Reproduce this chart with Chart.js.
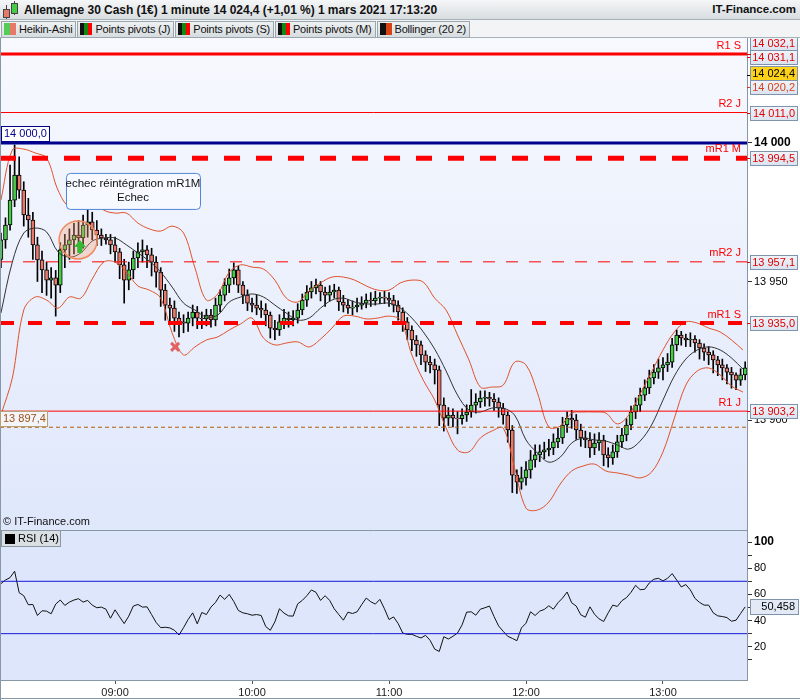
<!DOCTYPE html>
<html>
<head>
<meta charset="utf-8">
<script src="https://cdn.jsdelivr.net/npm/chart.js@4.4.1/dist/chart.umd.min.js"></script>
<style>
  body { margin: 0; width: 800px; height: 700px; overflow: hidden; background: #fff; position: relative;
         font-family: "Liberation Sans", Arial, sans-serif; }
  #title { position: absolute; left: 0; top: 0; width: 800px; height: 20px; box-sizing: border-box;
           background: linear-gradient(#f5f6f7, #d8dde0); border-bottom: 1px solid #a7b1b8; }
  #title .ic { position: absolute; width: 5px; border: 1px solid #444; }
  #title .wk { position: absolute; width: 1px; background: #444; }
  #ttext { position: absolute; left: 24px; top: 3px; font-weight: bold; font-size: 12px; letter-spacing: -0.05px; color: #111; white-space: nowrap; }
  #brand { position: absolute; right: 4px; top: 3px; font-weight: bold; font-size: 11.5px; color: #111; }
  #legend { position: absolute; left: 0; top: 20px; width: 800px; height: 18px; background: #f2f4f6;
            box-sizing: border-box; border-bottom: 1px solid #a7b1b8; white-space: nowrap; }
  .btn { display: inline-block; height: 15px; line-height: 15px; font-size: 11px; letter-spacing: -0.2px; color: #111; margin: 1px 0 0 1px;
         padding: 0 3px 0 2px; border: 1px solid #9aa5ad; background: linear-gradient(#eef1f2, #d6dcdf); vertical-align: top; }
  .sw { display: inline-block; width: 12px; height: 12px; margin: 1px 3px 0 0; vertical-align: top; }
  #c { position: absolute; left: 0; top: 38px; }
</style>
</head>
<body>
<div id="title">
  <div class="wk" style="left:6px;top:5px;height:14px"></div>
  <div class="ic" style="left:3px;top:9px;height:7px;background:#e8786a"></div>
  <div class="wk" style="left:14px;top:1px;height:14px"></div>
  <div class="ic" style="left:11px;top:3px;height:9px;background:#44cc44"></div>
  <span id="ttext">Allemagne 30 Cash (1€) 1 minute 14 024,4 (+1,01 %) 1 mars 2021 17:13:20</span>
  <span id="brand">IT-Finance.com</span>
</div>
<div id="legend">
  <span class="btn"><i class="sw" style="background:linear-gradient(90deg,#55cc55 50%,#e8786a 50%)"></i>Heikin-Ashi</span><span class="btn"><i class="sw" style="background:linear-gradient(90deg,#111 33%,#118811 33%,#118811 66%,#ff0000 66%)"></i>Points pivots (J)</span><span class="btn"><i class="sw" style="background:linear-gradient(90deg,#111 33%,#118811 33%,#118811 66%,#ff0000 66%)"></i>Points pivots (S)</span><span class="btn"><i class="sw" style="background:linear-gradient(90deg,#111 33%,#118811 33%,#118811 66%,#ff0000 66%)"></i>Points pivots (M)</span><span class="btn"><i class="sw" style="background:linear-gradient(90deg,#111 50%,#d84315 50%)"></i>Bollinger (20 2)</span>
</div>
<canvas id="c" width="800" height="662"></canvas>
<script>
// time is counted in minutes after 08:00
const xMin = 9.6;
const xMax = 336.8;
const hourTicks = [60, 120, 180, 240, 300];

// Heikin-Ashi candles, one every 2 minutes from 08:10 : [open, high, low, close]
const candleStart = 10;
const candleStep = 2;
const candles = [
  [13958.0,13967.5,13955.0,13965.0],[13965.0,13973.0,13962.0,13970.4],[13970.4,13992.0,13968.5,13979.4],[13979.4,13999.3,13977.0,13988.4],
  [13988.4,13995.0,13980.0,13983.0],[13983.0,13986.0,13970.0,13974.0],[13974.0,13980.0,13966.0,13972.2],[13972.2,13975.0,13958.0,13963.2],
  [13963.2,13966.0,13950.0,13957.8],[13957.8,13961.0,13946.0,13954.2],[13954.2,13957.0,13945.0,13950.5],[13950.5,13955.0,13944.0,13951.3],
  [13951.3,13954.0,13937.5,13948.7],[13948.7,13964.0,13946.0,13961.4],[13961.4,13967.0,13955.0,13963.2],[13963.2,13969.0,13958.0,13965.0],
  [13965.0,13971.0,13960.0,13966.8],[13966.8,13972.0,13960.5,13965.7],[13965.7,13974.0,13962.0,13970.4],[13970.4,13976.2,13966.0,13971.5],
  [13971.5,13975.0,13965.0,13968.6],[13968.6,13972.0,13963.0,13966.8],[13966.8,13969.0,13963.0,13965.7],[13965.7,13967.0,13963.5,13965.0],
  [13965.0,13967.0,13960.0,13963.2],[13963.2,13966.0,13957.0,13960.7],[13960.7,13962.0,13951.0,13956.0],[13956.0,13958.0,13942.2,13950.5],
  [13950.5,13957.0,13947.0,13954.2],[13954.2,13961.0,13951.0,13958.5],[13958.5,13964.0,13955.0,13960.7],[13960.7,13965.0,13957.0,13961.4],
  [13961.4,13963.0,13955.0,13959.6],[13959.6,13962.0,13952.0,13957.0],[13957.0,13959.0,13948.0,13953.4],[13953.4,13955.0,13941.0,13946.9],
  [13946.9,13949.0,13936.0,13941.5],[13941.5,13944.0,13935.0,13940.4],[13940.4,13943.0,13932.0,13936.8],[13936.8,13939.0,13930.0,13935.4],
  [13935.4,13938.0,13931.5,13935.0],[13935.0,13939.0,13932.0,13936.8],[13936.8,13941.5,13934.0,13939.0],[13939.0,13941.0,13933.0,13936.8],
  [13936.8,13939.0,13933.0,13936.5],[13936.5,13940.0,13934.0,13937.9],[13937.9,13940.0,13933.5,13936.1],[13936.1,13944.0,13934.0,13941.5],
  [13941.5,13947.0,13939.0,13945.1],[13945.1,13951.0,13943.0,13948.7],[13948.7,13954.5,13946.0,13951.3],[13951.3,13956.7,13949.0,13954.2],
  [13954.2,13955.5,13946.0,13948.7],[13948.7,13950.0,13942.0,13945.1],[13945.1,13947.0,13939.5,13942.2],[13942.2,13944.0,13939.0,13941.5],
  [13941.5,13945.0,13938.0,13940.4],[13940.4,13943.0,13937.0,13939.7],[13939.7,13942.0,13934.0,13937.9],[13937.9,13939.0,13929.6,13933.2],
  [13933.2,13936.0,13929.0,13932.5],[13932.5,13938.0,13930.5,13935.4],[13935.4,13940.0,13933.0,13936.8],[13936.8,13939.0,13933.5,13936.1],
  [13936.1,13939.5,13934.0,13936.8],[13936.8,13942.0,13935.0,13939.7],[13939.7,13945.5,13938.0,13943.3],[13943.3,13948.5,13941.0,13946.2],
  [13946.2,13950.0,13944.0,13947.7],[13947.7,13950.9,13945.5,13948.7],[13948.7,13950.0,13943.0,13946.2],[13946.2,13948.0,13941.0,13945.1],
  [13945.1,13948.5,13943.0,13946.2],[13946.2,13949.0,13944.0,13946.9],[13946.9,13948.0,13939.5,13942.6],[13942.6,13945.0,13939.0,13941.5],
  [13941.5,13943.5,13938.5,13940.4],[13940.4,13943.0,13938.0,13940.8],[13940.8,13944.0,13939.0,13941.5],[13941.5,13944.5,13940.0,13942.2],
  [13942.2,13945.5,13940.5,13943.3],[13943.3,13946.0,13941.0,13943.0],[13943.0,13946.5,13941.5,13944.0],[13944.0,13946.0,13942.0,13944.4],
  [13944.4,13946.5,13942.0,13944.0],[13944.0,13946.0,13941.0,13943.3],[13943.3,13945.0,13939.0,13941.5],[13941.5,13943.0,13936.0,13939.0],
  [13939.0,13940.5,13932.0,13935.4],[13935.4,13937.0,13929.0,13932.5],[13932.5,13934.0,13925.0,13928.9],[13928.9,13930.5,13923.0,13927.1],
  [13927.1,13928.5,13920.0,13923.5],[13923.5,13925.0,13917.5,13920.9],[13920.9,13923.0,13917.0,13919.9],[13919.9,13922.0,13913.0,13918.1],
  [13918.1,13919.5,13898.0,13905.4],[13905.4,13908.0,13896.0,13900.7],[13900.7,13904.5,13898.0,13901.8],[13901.8,13904.0,13897.5,13900.7],
  [13900.7,13903.0,13895.0,13900.5],[13900.5,13904.0,13898.5,13901.8],[13901.8,13905.5,13899.5,13902.9],[13902.9,13911.0,13901.0,13905.4],
  [13905.4,13909.5,13902.5,13906.5],[13906.5,13910.5,13904.5,13907.9],[13907.9,13910.5,13905.0,13908.2],[13908.2,13910.0,13905.0,13907.6],
  [13907.6,13909.5,13903.5,13906.5],[13906.5,13908.0,13901.0,13904.3],[13904.3,13906.0,13898.5,13901.8],[13901.8,13903.0,13892.0,13896.4],
  [13896.4,13898.0,13873.8,13880.1],[13880.1,13882.0,13873.5,13877.6],[13877.6,13883.0,13875.0,13879.1],[13879.1,13885.0,13876.5,13882.0],
  [13882.0,13889.0,13879.0,13885.6],[13885.6,13891.0,13883.0,13887.4],[13887.4,13891.0,13885.0,13888.5],[13888.5,13892.0,13886.0,13889.2],
  [13889.2,13893.0,13887.0,13889.9],[13889.9,13895.0,13887.5,13892.1],[13892.1,13897.0,13890.0,13893.5],[13893.5,13901.0,13891.5,13898.2],
  [13898.2,13903.0,13895.5,13900.7],[13900.7,13903.5,13897.0,13900.0],[13900.0,13902.0,13893.0,13896.4],[13896.4,13898.5,13890.5,13893.5],
  [13893.5,13896.0,13890.0,13892.8],[13892.8,13895.5,13886.5,13889.9],[13889.9,13895.0,13887.5,13891.7],[13891.7,13895.5,13889.0,13892.8],
  [13892.8,13894.5,13883.5,13887.4],[13887.4,13890.0,13883.0,13886.3],[13886.3,13891.0,13884.0,13888.5],[13888.5,13894.5,13886.5,13892.1],
  [13892.1,13897.0,13890.0,13894.6],[13894.6,13900.5,13892.5,13898.2],[13898.2,13905.0,13896.5,13902.9],[13902.9,13908.0,13900.5,13905.4],
  [13905.4,13911.5,13903.0,13909.0],[13909.0,13914.5,13907.0,13911.6],[13911.6,13918.0,13909.5,13915.2],[13915.2,13920.0,13913.0,13917.3],
  [13917.3,13922.0,13915.0,13918.8],[13918.8,13922.5,13914.5,13919.9],[13919.9,13924.0,13917.5,13920.9],[13920.9,13929.5,13919.0,13927.1],
  [13927.1,13932.5,13925.0,13930.7],[13930.7,13932.0,13927.0,13929.6],[13929.6,13931.0,13926.5,13928.9],[13928.9,13931.5,13926.5,13929.2],
  [13929.2,13930.5,13924.5,13927.8],[13927.8,13929.0,13922.0,13926.0],[13926.0,13927.5,13921.5,13924.5],[13924.5,13926.5,13920.0,13923.5],
  [13923.5,13925.0,13917.0,13921.7],[13921.7,13923.0,13916.0,13919.9],[13919.9,13922.0,13914.5,13918.8],[13918.8,13920.0,13913.0,13917.3],
  [13917.3,13919.0,13911.5,13916.3],[13916.3,13917.0,13911.0,13914.4],[13914.4,13918.5,13912.5,13916.3],[13916.3,13921.0,13914.5,13918.8]
];

// Bollinger (20 2), read every 5 minutes from 08:10
const bbStart = 10;
const bbStep = 5;
const bbUpper = [
  13979.4,13997.5,13997.8,13996.4,13994.6,13983.0,13976.9,13978.7,13980.1,13975.8,
  13974.7,13974.7,13971.1,13969.0,13968.2,13970.0,13967.5,13954.9,13943.3,13945.5,
  13953.4,13956.0,13955.2,13954.5,13950.5,13944.0,13942.6,13946.6,13949.5,13951.6,
  13951.6,13950.5,13948.4,13946.9,13946.9,13949.5,13950.5,13949.8,13944.0,13939.7,
  13930.7,13921.7,13911.9,13911.9,13912.6,13920.9,13919.9,13909.8,13897.5,13897.8,
  13902.5,13902.9,13902.9,13902.5,13898.6,13901.8,13909.4,13917.3,13925.3,13931.8,
  13935.4,13935.0,13933.2,13931.8,13928.9,13925.3
];
const bbMiddle = [
  13938.6,13957.0,13967.5,13969.3,13967.9,13960.7,13958.8,13960.3,13964.6,13965.7,
  13965.7,13963.2,13960.3,13957.4,13953.4,13948.0,13942.2,13939.7,13937.2,13937.9,
  13942.6,13944.4,13945.5,13944.4,13941.5,13938.6,13936.1,13936.8,13940.4,13943.3,
  13944.0,13942.6,13941.9,13941.9,13942.2,13940.4,13936.8,13931.8,13925.6,13917.7,
  13909.0,13903.6,13902.9,13904.3,13904.3,13901.8,13892.8,13888.1,13884.8,13886.6,
  13891.7,13893.5,13892.8,13892.4,13891.0,13889.5,13892.4,13898.2,13907.2,13915.9,
  13922.0,13925.3,13926.4,13925.3,13922.4,13918.4
];
const bbLower = [
  13901.8,13915.2,13939.7,13944.4,13943.3,13940.4,13944.4,13944.0,13950.9,13957.0,
  13957.0,13953.4,13948.4,13946.9,13944.0,13931.4,13923.5,13926.4,13928.9,13930.0,
  13932.5,13934.7,13936.8,13929.6,13927.1,13927.8,13928.2,13926.4,13929.2,13933.2,
  13937.5,13937.5,13936.5,13936.8,13937.5,13936.1,13923.5,13914.4,13907.2,13897.1,
  13889.2,13888.5,13893.5,13896.0,13897.1,13882.7,13868.2,13867.5,13870.4,13876.9,
  13881.6,13883.4,13884.1,13881.6,13880.9,13880.1,13879.1,13881.2,13888.5,13900.7,
  13912.6,13917.7,13918.8,13916.3,13912.3,13910.1
];

// RSI (14), read every 2 minutes from 08:10
const rsiStart = 10;
const rsiStep = 2;
const rsiValues = [
  68.2,71.0,72.8,77.7,61.3,59.0,52.1,52.3,43.9,47.5,47.2,45.2,52.6,55.7,51.6,54.1,55.7,56.7,54.1,55.4,
  51.8,49.8,50.3,48.7,41.8,48.2,42.8,37.7,43.4,51.1,52.3,50.3,50.5,44.6,38.5,34.6,34.9,34.4,32.6,29.0,
  34.6,40.8,45.9,37.5,46.2,44.6,50.3,53.9,59.5,56.2,60.0,54.6,47.7,45.9,45.2,44.1,44.6,43.9,35.4,32.6,
  39.0,49.0,45.7,43.6,43.4,52.8,55.4,59.0,63.4,61.6,55.4,59.0,55.4,49.0,44.6,40.3,46.4,45.4,46.7,52.1,
  57.2,54.4,52.6,56.2,49.0,40.8,42.8,37.7,30.5,29.5,29.5,28.0,26.7,28.7,24.9,18.2,16.4,27.7,25.9,28.0,
  30.5,36.7,46.4,46.7,44.1,48.7,49.8,51.1,43.1,35.9,31.8,28.0,26.4,24.6,34.4,38.0,46.7,43.9,47.2,48.5,
  51.3,48.7,53.6,57.2,61.8,53.6,51.1,44.4,42.6,50.5,44.9,41.3,39.3,45.9,51.8,50.8,55.2,57.5,61.6,66.9,
  63.6,63.9,68.7,71.6,72.3,70.3,72.3,75.9,71.0,65.7,67.5,63.4,57.0,53.9,51.8,51.8,45.9,43.6,43.1,42.3,
  39.5,40.3,45.4,50.458
];
const rsiBands = [70, 30];
const rsiTicks = [10, 20, 30, 40, 50, 60, 70, 80, 90, 100];
const rsiLabelled = [20, 40, 60, 80, 100];

// price scale and pivot levels
const priceMin = 13860.3;
const priceMax = 14037.9;
const priceTicks = [13900, 13950, 14000];
const levelNames = ["R1 S", "R2 J", "mR1 M", "mR2 J", "mR1 S", "R1 J"];
const levelValues = [14032.1, 14011.0, 13994.5, 13957.1, 13935.0, 13903.2];
const levelWidths = [3, 1, 5, 1, 4, 1];
const levelDashes = [[], [], [16, 16], [12, 11], [14, 14], []];
const roundLevel = 14000.0;
const markLevel = 13897.4;
const extraBoxes = [14031.1, 14024.4, 14020.2]; // pivot (hidden), last price, upper band
const lastPrice = 14024.4;

const FONT = '"Liberation Sans", Arial, sans-serif';
Chart.defaults.font.family = FONT;
Chart.defaults.font.size = 11;
Chart.defaults.color = "#000";

function fr(v, d) {
  const parts = v.toFixed(d).split(".");
  const ent = parts[0].replace(/\B(?=(\d{3})+(?!\d))/g, " ");
  return d ? ent + "," + parts[1] : ent;
}
function hhmm(m) {
  const h = 8 + Math.floor(m / 60), mm = m % 60;
  return String(h).padStart(2, "0") + ":" + String(mm).padStart(2, "0");
}
// no extra margins round the axes, the panes fill the canvas
function noPad(s) {
  s.paddingTop = 0; s.paddingBottom = 0; s.paddingLeft = 0; s.paddingRight = 0;
}

const tCandle = candles.map((c, i) => candleStart + i * candleStep);
const wickData = candles.map((c, i) => ({ x: tCandle[i], y: [c[2], c[1]] }));
const bodyData = candles.map((c, i) => ({ x: tCandle[i], y: [c[0], c[3]] }));
const bodyColors = candles.map(c => (c[3] >= c[0] ? "#44cc44" : "#e8786a"));
const band = arr => arr.map((v, i) => ({ x: bbStart + i * bbStep, y: v }));
const flat = v => [{ x: xMin, y: v }, { x: xMax, y: v }];

const datasets = [];
levelNames.forEach((n, k) => {
  datasets.push({ type: "line", label: n, data: flat(levelValues[k]), yAxisID: "y", order: 1,
    borderColor: "#ff0000", borderWidth: levelWidths[k], borderDash: levelDashes[k], pointRadius: 0 });
});
datasets.push({ type: "line", label: "14000", data: flat(roundLevel), yAxisID: "y", order: 1,
  borderColor: "#00008c", borderWidth: 3, pointRadius: 0 });
datasets.push({ type: "line", label: "mark", data: flat(markLevel), yAxisID: "y", order: 1,
  borderColor: "#b05a10", borderWidth: 1, borderDash: [4, 3], pointRadius: 0 });
datasets.push({ type: "line", label: "BB sup", data: band(bbUpper), yAxisID: "y", order: 2,
  borderColor: "#e0522a", borderWidth: 1, pointRadius: 0, tension: 0.35 });
datasets.push({ type: "line", label: "BB inf", data: band(bbLower), yAxisID: "y", order: 2,
  borderColor: "#e0522a", borderWidth: 1, pointRadius: 0, tension: 0.35 });
datasets.push({ type: "line", label: "BB moy", data: band(bbMiddle), yAxisID: "y", order: 2,
  borderColor: "#333333", borderWidth: 1, pointRadius: 0, tension: 0.35 });
datasets.push({ type: "bar", label: "corps", data: bodyData, yAxisID: "y", order: 3, grouped: false,
  barThickness: 4, backgroundColor: bodyColors, borderColor: "#000", borderWidth: 1, borderSkipped: false });
datasets.push({ type: "bar", label: "meches", data: wickData, yAxisID: "y", order: 4, grouped: false,
  barThickness: 1, backgroundColor: "#000", borderWidth: 0 });
rsiBands.forEach(v => {
  datasets.push({ type: "line", label: "rsi " + v, data: flat(v), yAxisID: "yR", order: 1,
    borderColor: "#1818d8", borderWidth: 1, pointRadius: 0 });
});
datasets.push({ type: "line", label: "RSI", data: rsiValues.map((v, i) => ({ x: rsiStart + i * rsiStep, y: v })),
  yAxisID: "yR", order: 2, borderColor: "#111", borderWidth: 1, pointRadius: 0 });

function box(ctx, x, y, w, h, fill, stroke) {
  ctx.fillStyle = fill;
  ctx.fillRect(x, y, w, h);
  ctx.strokeStyle = stroke;
  ctx.lineWidth = 1;
  ctx.strokeRect(x + 0.5, y + 0.5, w - 1, h - 1);
}

const decor = {
  id: "decor",
  beforeDraw(chart) {
    const { ctx, chartArea: a, scales: { y, yR } } = chart;
    ctx.save();
    const g = ctx.createLinearGradient(0, y.top, 0, y.bottom);
    g.addColorStop(0, "#f7f9fe");
    g.addColorStop(1, "#dfe7fb");
    ctx.fillStyle = g;
    ctx.fillRect(a.left, y.top, a.right - a.left, y.bottom - y.top);
    ctx.fillStyle = "#dde6fb";
    ctx.fillRect(a.left, yR.top, a.right - a.left, yR.bottom - yR.top);
    ctx.restore();
  },
  afterDatasetsDraw(chart) {
    const { ctx, chartArea: a, scales: { x, y, yR } } = chart;
    ctx.save();
    // panel separator and frame
    ctx.strokeStyle = "#8797a6";
    ctx.lineWidth = 1;
    ctx.beginPath();
    ctx.moveTo(0, Math.round(yR.top) + 0.5); ctx.lineTo(a.right, Math.round(yR.top) + 0.5);
    ctx.moveTo(0.5, 0); ctx.lineTo(0.5, chart.height);
    ctx.moveTo(0, chart.height - 1.5); ctx.lineTo(chart.width, chart.height - 1.5);
    ctx.stroke();

    // level names
    ctx.font = "11px " + FONT;
    ctx.textAlign = "right";
    ctx.textBaseline = "bottom";
    ctx.fillStyle = "#ff0000";
    levelNames.forEach((n, k) => {
      const py = y.getPixelForValue(levelValues[k]);
      ctx.fillText(n, a.right - 6, py - Math.max(levelWidths[k] / 2, 2) - 1);
    });

    // left boxes
    ctx.textAlign = "left";
    ctx.textBaseline = "middle";
    let py = y.getPixelForValue(roundLevel);
    box(ctx, 1, Math.round(py) - 17, 49, 16, "#ffffff", "#00008c");
    ctx.fillStyle = "#00008c";
    ctx.fillText(fr(roundLevel, 1), 4, Math.round(py) - 9);
    py = y.getPixelForValue(markLevel);
    box(ctx, 0, Math.round(py) - 16, 48, 16, "#f3f5fc", "#b8a070");
    ctx.fillStyle = "#a05010";
    ctx.fillText(fr(markLevel, 1), 3, Math.round(py) - 8);

    // annotation: circle, arrow, cross, comment box
    const cx = x.getPixelForValue(43.8), cy = y.getPixelForValue(13965.0);
    ctx.beginPath();
    ctx.arc(cx, cy, 19, 0, Math.PI * 2);
    ctx.fillStyle = "rgba(245,160,120,0.35)";
    ctx.fill();
    ctx.strokeStyle = "#f08a5d";
    ctx.lineWidth = 1.5;
    ctx.stroke();
    const ax = x.getPixelForValue(44.6), ay = y.getPixelForValue(13962.5);
    ctx.beginPath();
    ctx.moveTo(ax, ay - 7); ctx.lineTo(ax + 6, ay); ctx.lineTo(ax + 2.5, ay); ctx.lineTo(ax + 2.5, ay + 6);
    ctx.lineTo(ax - 2.5, ay + 6); ctx.lineTo(ax - 2.5, ay); ctx.lineTo(ax - 6, ay); ctx.closePath();
    ctx.fillStyle = "#33bb33";
    ctx.fill();
    const xx = x.getPixelForValue(86.3), xy = y.getPixelForValue(13926.4);
    ctx.strokeStyle = "#e26262";
    ctx.lineWidth = 3;
    ctx.beginPath();
    ctx.moveTo(xx - 4, xy - 4); ctx.lineTo(xx + 4, xy + 4);
    ctx.moveTo(xx + 4, xy - 4); ctx.lineTo(xx - 4, xy + 4);
    ctx.stroke();
    const bl = x.getPixelForValue(38.5), br = x.getPixelForValue(97.2);
    const bt = y.getPixelForValue(13989.2), bb = y.getPixelForValue(13976.2);
    ctx.beginPath();
    ctx.roundRect(bl + 0.5, bt + 0.5, br - bl, bb - bt, 4);
    ctx.fillStyle = "#f6f9ff";
    ctx.fill();
    ctx.strokeStyle = "#4f86d8";
    ctx.lineWidth = 1;
    ctx.stroke();
    ctx.fillStyle = "#111";
    ctx.textAlign = "center";
    ctx.font = "11.5px " + FONT;
    ctx.fillText("echec réintégration mR1M", (bl + br) / 2, bt + 11);
    ctx.fillText("Echec", (bl + br) / 2, bt + 25);

    // copyright and RSI legend
    ctx.textAlign = "left";
    ctx.font = "11px " + FONT;
    ctx.fillText("© IT-Finance.com", 3, yR.top - 8);
    box(ctx, 1, Math.round(yR.top), 60, 17, "#d9dfe2", "#8a98a2");
    ctx.fillStyle = "#000";
    ctx.fillRect(5, Math.round(yR.top) + 4, 10, 10);
    ctx.fillText("RSI (14)", 18, Math.round(yR.top) + 9);
    ctx.restore();
  },
  afterDraw(chart) {
    const { ctx, chartArea: a, scales: { y, yR } } = chart;
    ctx.save();
    ctx.font = "11px " + FONT;
    ctx.textAlign = "right";
    ctx.textBaseline = "middle";
    // price boxes on the right axis, pushed apart when they touch
    const items = levelValues.map(v => ({ v, color: "#e00000", fill: null }));
    extraBoxes.forEach(v => items.push({ v, color: v === lastPrice ? "#000" : (v === 14020.2 ? "#d8401a" : "#e00000"),
      fill: v === lastPrice ? "#ffd21a" : null }));
    items.forEach(it => { it.py = y.getPixelForValue(it.v); it.cy = it.py; });
    items.sort((p, q) => q.py - p.py);
    for (let k = 1; k < items.length; k++) {
      if (items[k - 1].cy - items[k].cy < 14) items[k].cy = items[k - 1].cy - 14;
    }
    items.forEach(it => {
      ctx.strokeStyle = it.color;
      ctx.lineWidth = 1;
      ctx.beginPath();
      ctx.moveTo(a.right, Math.round(it.py) + 0.5); ctx.lineTo(a.right + 4, Math.round(it.py) + 0.5);
      ctx.stroke();
      const top = Math.round(it.cy) - 7;
      let fill = it.fill;
      if (!fill) {
        fill = ctx.createLinearGradient(0, top, 0, top + 15);
        fill.addColorStop(0, "#f1f5fb"); fill.addColorStop(1, "#d9e2ef");
      }
      box(ctx, a.right + 3, top, 48, 15, fill, "#7f93ad");
      ctx.fillStyle = it.color;
      ctx.fillText(fr(it.v, 1), a.right + 48, top + 8);
    });
    // RSI last value
    const last = rsiValues[rsiValues.length - 1];
    const ry = Math.round(yR.getPixelForValue(last));
    box(ctx, a.right + 3, ry - 8, 49, 16, "#e3eaf5", "#7f93ad");
    ctx.fillStyle = "#000";
    ctx.fillText(fr(last, 3), a.right + 48, ry);
    ctx.restore();
  }
};

new Chart(document.getElementById("c"), {
  type: "line",
  data: { datasets },
  options: {
    responsive: false,
    animation: false,
    events: [],
    layout: { padding: 0 },
    plugins: { legend: { display: false }, tooltip: { enabled: false } },
    scales: {
      x: {
        type: "linear", position: "bottom", min: xMin, max: xMax, offset: false,
        grid: { drawOnChartArea: false, offset: false, tickLength: 4, color: "#555" },
        border: { color: "#8797a6" },
        afterBuildTicks: s => { s.ticks = hourTicks.map(v => ({ value: v })); },
        afterFit: s => { s.height = 20; noPad(s); },
        ticks: { autoSkip: false, maxRotation: 0, padding: 2, color: "#222", callback: v => hhmm(v) }
      },
      y: {
        type: "linear", position: "right", stack: "panes", stackWeight: 492, min: priceMin, max: priceMax,
        grid: { drawOnChartArea: false, tickLength: 5, color: "#333" },
        border: { color: "#8797a6" },
        afterBuildTicks: s => { s.ticks = priceTicks.map(v => ({ value: v })); },
        afterFit: s => { s.width = 53; noPad(s); },
        ticks: { autoSkip: false, padding: 2, color: "#000",
          font: c => (c.tick && c.tick.value === 14000 ? { size: 12, weight: "bold" } : { size: 11 }),
          callback: v => fr(v, 0) }
      },
      yR: {
        type: "linear", position: "right", stack: "panes", stackWeight: 150, min: -5.4, max: 109.2,
        grid: { drawOnChartArea: false, tickLength: 5, color: "#333" },
        border: { color: "#8797a6" },
        afterBuildTicks: s => { s.ticks = rsiTicks.map(v => ({ value: v })); },
        afterFit: s => { s.width = 53; noPad(s); },
        ticks: { autoSkip: false, padding: 2, color: "#000",
          font: c => (c.tick && c.tick.value === 100 ? { size: 12, weight: "bold" } : { size: 11 }),
          callback: v => (rsiLabelled.includes(v) ? String(v) : "") }
      }
    }
  },
  plugins: [decor]
});
</script>
</body>
</html>
